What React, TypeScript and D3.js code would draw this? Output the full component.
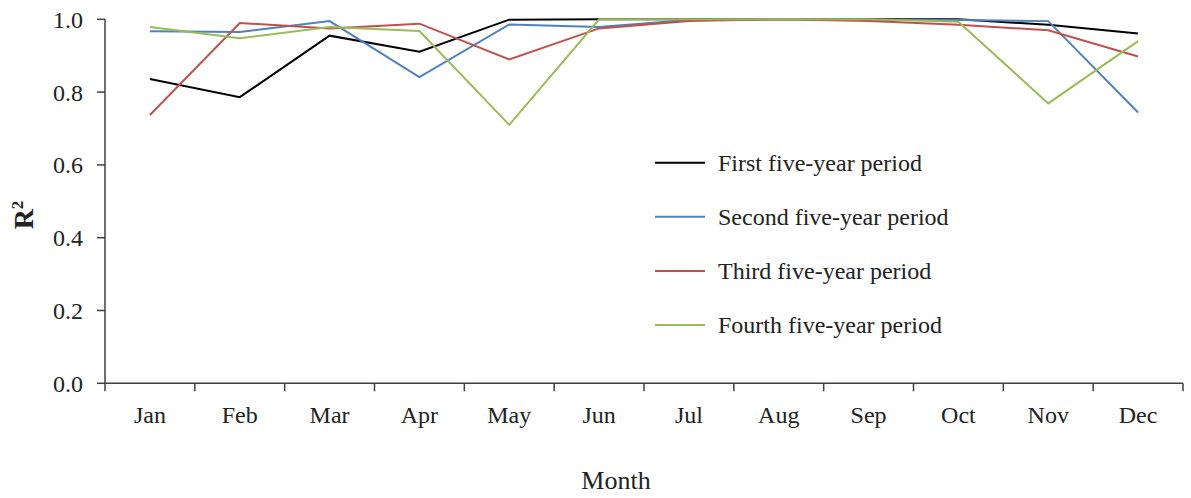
import React from "react";
import * as d3 from "d3";

const months = ["Jan", "Feb", "Mar", "Apr", "May", "Jun", "Jul", "Aug", "Sep", "Oct", "Nov", "Dec"];
const yTicks = [0, 0.2, 0.4, 0.6, 0.8, 1.0];
const seriesNames = ["First five-year period", "Second five-year period", "Third five-year period", "Fourth five-year period"];
const seriesColors = ["#000000", "#4F81BD", "#C0504D", "#9BBB59"];
const first = [0.836, 0.786, 0.955, 0.911, 0.999, 1.0, 1.0, 1.0, 1.0, 1.0, 0.985, 0.961];
const second = [0.967, 0.965, 0.995, 0.841, 0.986, 0.979, 0.998, 1.0, 0.998, 0.998, 0.995, 0.744];
const third = [0.737, 0.99, 0.975, 0.988, 0.89, 0.975, 0.995, 1.0, 0.995, 0.985, 0.97, 0.898];
const fourth = [0.979, 0.948, 0.979, 0.968, 0.71, 1.0, 1.0, 1.0, 1.0, 0.993, 0.769, 0.94];
const seriesValues = [first, second, third, fourth];

const W = 1191;
const H = 498;
const left = 105;
const right = 1183;
const top = 19.3;
const bottom = 383.3;
const font = "'Liberation Serif', 'Times New Roman', serif";
const axisColor = "#404040";
const textColor = "#222";

export default function App() {
  const x = d3.scaleBand<string>().domain(months).range([left, right]).padding(0);
  const y = d3.scaleLinear().domain([0, 1]).range([bottom, top]);
  const line = d3
    .line<number>()
    .x((_, i) => (x(months[i]) as number) + x.bandwidth() / 2)
    .y((d) => y(d));
  const bounds = [...months.map((m) => x(m) as number), right];

  return (
    <svg width={W} height={H} style={{ position: "absolute", left: 0, top: 0, background: "#fff" }}>
      <rect width={W} height={H} fill="#fff" />
      {/* y axis */}
      <line x1={left} x2={left} y1={top} y2={bottom} stroke={axisColor} strokeWidth={1.5} />
      {yTicks.map((t) => (
        <g key={t}>
          <line x1={left - 8} x2={left} y1={y(t)} y2={y(t)} stroke={axisColor} strokeWidth={1.5} />
          <text x={83} y={y(t)} dy="0.35em" textAnchor="end" fontFamily={font} fontSize={24} fill={textColor}>
            {t.toFixed(1)}
          </text>
        </g>
      ))}
      {/* x axis */}
      <line x1={left} x2={right} y1={bottom} y2={bottom} stroke={axisColor} strokeWidth={1.5} />
      {bounds.map((b, i) => (
        <line key={i} x1={b} x2={b} y1={bottom} y2={bottom + 8} stroke={axisColor} strokeWidth={1.5} />
      ))}
      {months.map((m) => (
        <text key={m} x={(x(m) as number) + x.bandwidth() / 2} y={423} textAnchor="middle" fontFamily={font} fontSize={24} fill={textColor}>
          {m}
        </text>
      ))}
      <text x={616} y={489} textAnchor="middle" fontFamily={font} fontSize={26} fill={textColor}>
        Month
      </text>
      <text transform="translate(33,215) rotate(-90)" textAnchor="middle" fontFamily={font} fontSize={28} fontWeight="bold" fill={textColor}>
        R<tspan dy="-10" fontSize={17}>2</tspan>
      </text>
      {/* series */}
      {seriesValues.map((vals, k) => (
        <path key={k} d={line(vals) as string} fill="none" stroke={seriesColors[k]} strokeWidth={2} />
      ))}
      {/* legend */}
      {seriesNames.map((n, k) => {
        const ly = 162.7 + k * 54.1;
        return (
          <g key={n}>
            <line x1={655} x2={705} y1={ly} y2={ly} stroke={seriesColors[k]} strokeWidth={2} />
            <text x={718} y={ly + 8} fontFamily={font} fontSize={24} fill={textColor}>
              {n}
            </text>
          </g>
        );
      })}
    </svg>
  );
}
